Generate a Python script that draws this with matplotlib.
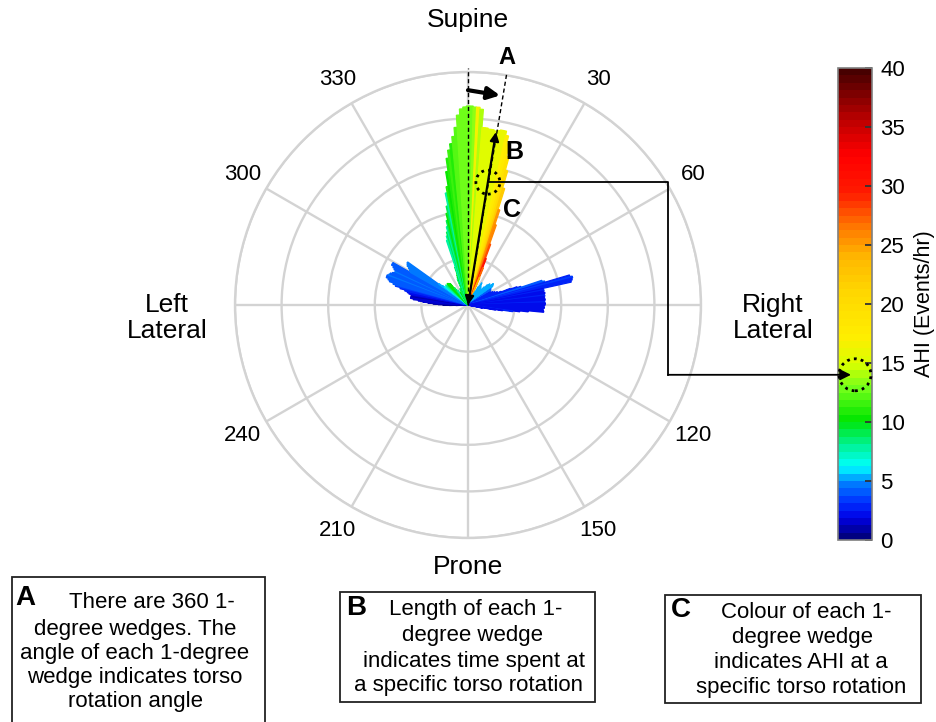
import numpy as np
import matplotlib
matplotlib.use("Agg")
import matplotlib.pyplot as plt
from matplotlib.colors import LinearSegmentedColormap, Normalize
from matplotlib.cm import ScalarMappable
from matplotlib.patches import Rectangle, Circle, FancyArrowPatch
from matplotlib.transforms import IdentityTransform
from matplotlib.lines import Line2D

plt.rcParams['font.family'] = ['Liberation Sans', 'DejaVu Sans']

# ---------------- data ----------------
# Supine lobe: torso angle (deg), time spent (radial units), AHI (events/hr)
supine_angle = [-22, -21, -20, -19, -18, -17, -16, -15, -14, -13, -12, -11, -10, -9, -8, -7, -6, -5,
                -4, -3, -2, -1, 0, 1, 2, 3, 4, 5, 6, 7, 8, 9, 10, 11, 12, 13, 14, 15, 16, 17, 18,
                19, 20, 21, 22, 23]
supine_time = [0.60, 0.64, 0.69, 0.86, 1.46, 1.55, 1.63, 1.74, 1.87, 2.02, 2.17, 2.45, 2.58, 2.90,
               3.18, 3.35, 3.48, 3.63, 3.82, 4.08, 4.21, 4.25, 4.27, 4.27, 4.25, 4.25, 4.21, 3.82,
               3.82, 3.80, 3.80, 3.78, 3.80, 3.82, 3.82, 3.73, 3.56, 3.30, 3.00, 2.62, 2.15, 1.82,
               1.39, 1.07, 0.86, 0.64]
supine_ahi = [9, 8, 10, 9, 8, 8, 9, 8, 9, 10, 9, 8, 11, 10, 11, 11.5, 11, 12, 12, 12.5, 13, 13, 13,
              13, 13.5, 16.5, 14, 15, 15, 15.5, 15, 15.5, 15.5, 16, 16, 17, 18, 19, 20, 22, 25, 26,
              28, 30, 27, 24]

# Right lateral lobe
right_angle = [28, 30, 32, 34, 36, 38, 40, 42, 44, 46, 48, 50, 52, 53, 55, 57, 60, 62, 64, 66, 68,
               69, 70, 71, 72, 73, 74, 75, 76, 77, 78, 79, 80, 81, 82, 83, 84, 85, 86, 87, 88, 89,
               90, 91, 92, 93, 94, 95, 96, 97, 98, 99, 100, 102]
right_time = [0.32, 0.45, 0.56, 0.50, 0.47, 0.45, 0.43, 0.52, 0.60, 0.65, 0.64, 0.71, 0.68, 0.64,
              0.60, 0.58, 0.56, 0.60, 0.64, 0.69, 0.77, 0.97, 1.12, 1.20, 1.67, 1.72, 2.27, 2.32,
              2.30, 2.27, 1.65, 1.66, 1.64, 1.67, 1.65, 1.66, 1.64, 1.65, 1.66, 1.64, 1.65, 1.66,
              1.65, 1.63, 1.64, 1.60, 1.62, 1.63, 1.30, 1.12, 0.97, 0.75, 0.60, 0.32]
right_ahi = [5, 5, 5, 5.5, 5.5, 5, 5, 5, 5.5, 5, 5, 5, 5, 5, 4, 4, 3, 3, 3, 3, 2.5, 3, 3, 3, 4, 4,
             3, 3.5, 3, 3, 2, 2.5, 2, 2, 2, 2.5, 2, 2, 2, 2, 2.5, 2, 2, 2, 2, 2, 2, 2, 2, 2, 3, 2,
             2, 2]

# Left lateral lobe
left_angle = [-92, -91, -90, -89, -88, -87, -86, -85, -84, -83, -82, -81, -80, -79, -78, -77, -76,
              -75, -74, -73, -72, -71, -70, -69, -68, -67, -66, -65, -64, -63, -62, -61, -60, -59,
              -58, -57, -56, -55, -54, -53, -52, -50, -48, -46, -44, -42, -40, -38, -35, -30, -26]
left_time = [0.26, 0.40, 0.54, 0.64, 0.75, 0.86, 0.97, 1.07, 1.18, 1.24, 1.24, 1.22, 1.24, 1.29,
             1.33, 1.39, 1.50, 1.61, 1.67, 1.76, 1.80, 1.85, 1.85, 1.82, 1.80, 1.76, 1.72, 1.72,
             1.76, 1.80, 1.85, 1.85, 1.42, 1.46, 1.50, 1.55, 1.57, 1.59, 0.77, 0.69, 0.64, 0.60,
             0.64, 0.60, 0.64, 0.62, 0.60, 0.47, 0.39, 0.32, 0.39]
left_ahi = [1, 0.5, 0.5, 1, 1, 1, 1.5, 1.5, 1.5, 1.5, 1.5, 1, 1.5, 2, 2, 2.5, 3, 3.5, 4, 4, 4, 4,
            4, 4.5, 4, 4, 4, 4.5, 4, 4, 4, 4, 4.5, 4.5, 4.5, 4.5, 4.5, 4.5, 5, 5.5, 6, 7, 8, 9, 10,
            10, 10, 9, 8, 10, 9]

angle_ticks = [30, 60, 120, 150, 210, 240, 300, 330]
cbar_ticks = [0, 5, 10, 15, 20, 25, 30, 35, 40]
ahi_max = 40
marked_ahi = 14

# ---------------- figure ----------------
W, H = 936, 722
fig = plt.figure(figsize=(W / 100, H / 100), dpi=100)


def fx(px):
    return px / W


def fy(py):
    return 1 - py / H


cmap = LinearSegmentedColormap.from_list('ahi', [
    (0.000, (0.00, 0.00, 0.50)),
    (0.040, (0.00, 0.00, 0.90)),
    (0.075, (0.00, 0.20, 1.00)),
    (0.115, (0.00, 0.50, 1.00)),
    (0.150, (0.00, 1.00, 1.00)),
    (0.195, (0.00, 0.95, 0.60)),
    (0.250, (0.00, 0.90, 0.00)),
    (0.320, (0.45, 1.00, 0.10)),
    (0.370, (0.85, 1.00, 0.00)),
    (0.430, (1.00, 0.93, 0.00)),
    (0.520, (1.00, 0.85, 0.00)),
    (0.600, (1.00, 0.72, 0.00)),
    (0.670, (1.00, 0.45, 0.00)),
    (0.740, (1.00, 0.10, 0.00)),
    (0.820, (1.00, 0.00, 0.00)),
    (0.900, (0.72, 0.00, 0.00)),
    (1.000, (0.28, 0.00, 0.00)),
], N=64)
norm = Normalize(0, ahi_max)

ax = fig.add_axes([fx(235), fy(538), 466 / W, 466 / H], projection='polar')
ax.set_theta_zero_location('N')
ax.set_theta_direction(-1)
ax.set_ylim(0, 5)
ax.set_yticks([1, 2, 3, 4, 5])
ax.set_yticklabels([])
ax.set_xticks(np.deg2rad(np.arange(0, 360, 30)))
ax.set_xticklabels([])
ax.grid(True, color='#d3d3d3', lw=1.7)
ax.spines['polar'].set_color('#d3d3d3')
ax.spines['polar'].set_linewidth(1.7)
ax.set_axisbelow(True)

angles = np.array(supine_angle + right_angle + left_angle, dtype=float)
times = np.array(supine_time + right_time + left_time)
ahis = np.array(supine_ahi + right_ahi + left_ahi)
cols = cmap(norm(ahis))
ax.bar(np.deg2rad(angles), times, width=np.deg2rad(1.0), bottom=0, color=cols,
       edgecolor=cols, linewidth=0.9, align='center', zorder=2, antialiased=True)

# angle labels
for a in angle_ticks:
    ax.text(np.deg2rad(a), 5.58, str(a), ha='center', va='center', fontsize=16)
ax.text(0, 6.12, 'Supine', ha='center', va='center', fontsize=19)
ax.text(np.pi, 5.62, 'Prone', ha='center', va='center', fontsize=19)
fig.text(fx(167), fy(318), 'Left\nLateral', ha='center', va='center', fontsize=19, linespacing=1.15)
fig.text(fx(773), fy(318), 'Right\nLateral', ha='center', va='center', fontsize=19, linespacing=1.15)

# annotations in the polar plot
ax.plot([0, 0], [0, 5.09], color='k', lw=1.0, ls=(0, (3, 2)), clip_on=False, zorder=5)
ax.plot([np.deg2rad(9.5)] * 2, [0, 5.06], color='k', lw=1.0, ls=(0, (3, 2)), clip_on=False, zorder=5)
ax.annotate('', xy=(np.deg2rad(8.7), 4.55), xytext=(0.0, 4.61),
            arrowprops=dict(arrowstyle='-|>', lw=3, color='k', mutation_scale=18,
                            shrinkA=0, shrinkB=0), annotation_clip=False, zorder=6)
ax.annotate('', xy=(np.deg2rad(9.2), 3.76), xytext=(0.0, 0.0),
            arrowprops=dict(arrowstyle='<|-|>', lw=1.6, color='k', mutation_scale=13,
                            shrinkA=0, shrinkB=0), annotation_clip=False, zorder=6)
fig.text(fx(507), fy(57), 'A', ha='center', va='center', fontsize=17, fontweight='bold')
fig.text(fx(514), fy(152), 'B', ha='center', va='center', fontsize=18, fontweight='bold')
fig.text(fx(512), fy(210), 'C', ha='center', va='center', fontsize=18, fontweight='bold')

# colorbar
cax = fig.add_axes([fx(838), fy(540), 34 / W, 472 / H])
cb = fig.colorbar(ScalarMappable(norm=norm, cmap=cmap), cax=cax, ticks=cbar_ticks)
cb.outline.set_edgecolor('#7f7f7f')
cb.outline.set_linewidth(1.2)
cax.tick_params(direction='in', length=5, width=1.3, color='#333333', labelsize=16, pad=6)
cb.set_label('AHI (Events/hr)', fontsize=15.5, labelpad=6)

# dotted circles and connector
fig.canvas.draw()
p1 = ax.transData.transform((np.deg2rad(9.2), 2.67))
p2 = cax.transData.transform((0.5, marked_ahi))
idt = IdentityTransform()
fig.add_artist(Circle(p1, 12, transform=idt, fill=False, ls=(0, (1, 1.5)), lw=2.0, color='k', zorder=7))
fig.add_artist(Circle(p2, 16, transform=idt, fill=False, ls=(0, (1, 1.5)), lw=2.0, color='k', zorder=7))
xturn = 668
fig.add_artist(Line2D([p1[0], xturn, xturn, xturn], [p1[1], p1[1], p2[1], p2[1]],
                      transform=idt, color='k', lw=1.3, zorder=7))
fig.add_artist(FancyArrowPatch((xturn, p2[1]), (p2[0] - 4, p2[1]), transform=idt,
                               arrowstyle='-|>', mutation_scale=16, lw=1.3, color='k',
                               shrinkA=0, shrinkB=0, zorder=7))

# explanatory boxes
boxes = [
    (12, 577, 265, 730, 'A', (25, 598),
     [(152, 603, 'There are 360 1-'), (135, 629, 'degree wedges. The'),
      (135, 653, 'angle of each 1-degree'), (135, 678, 'wedge indicates torso'),
      (135, 702, 'rotation angle')]),
    (340, 592, 595, 702, 'B', (356, 608),
     [(476, 610, 'Length of each 1-'), (473, 636, 'degree wedge'),
      (474, 661, 'indicates time spent at'), (468, 686, 'a specific torso rotation')]),
    (665, 595, 921, 703, 'C', (681, 610),
     [(806, 612, 'Colour of each 1-'), (803, 637, 'degree wedge'),
      (801, 662, 'indicates AHI at a'), (801, 687, 'specific torso rotation')]),
]
for x0, y0, x1, y1, letter, lpos, lines in boxes:
    fig.add_artist(Rectangle((fx(x0), fy(y1)), (x1 - x0) / W, (y1 - y0) / H,
                             transform=fig.transFigure, fill=False, lw=1.3, ec='#222222'))
    fig.text(fx(lpos[0]), fy(lpos[1]), letter, ha='center', va='center', fontsize=20,
             fontweight='bold')
    for lx, ly, s in lines:
        fig.text(fx(lx), fy(ly), s, ha='center', va='center', fontsize=16)

fig.savefig('out.png', dpi=100)
